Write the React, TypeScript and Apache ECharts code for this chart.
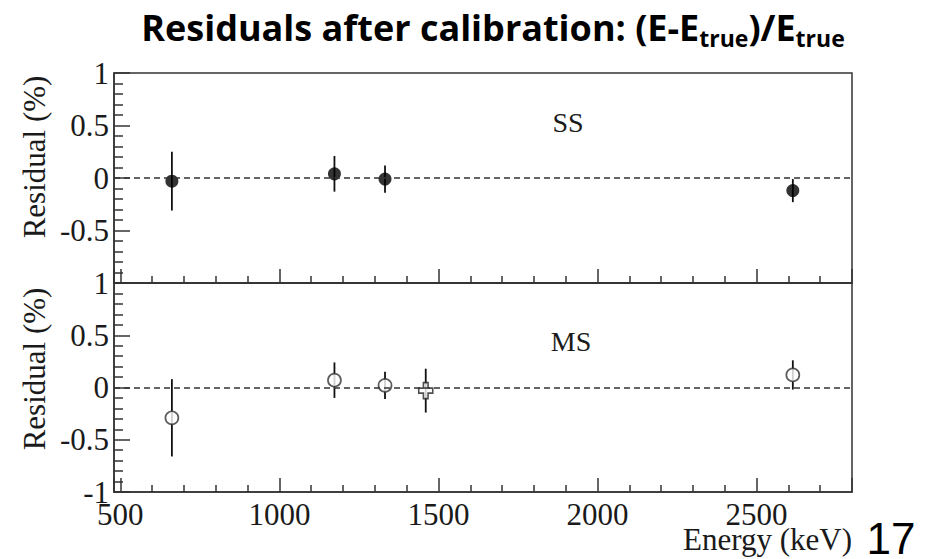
import React, { useEffect, useRef } from "react";
import * as echarts from "echarts";

// ---- data ----
const ssEnergy = [662, 1173, 1332, 2614];
const ssResidual = [-0.03, 0.04, -0.01, -0.12];
const ssError = [0.28, 0.17, 0.13, 0.11];

const msEnergy = [662, 1173, 1332, 2614];
const msResidual = [-0.29, 0.07, 0.02, 0.12];
const msError = [0.37, 0.17, 0.13, 0.14];

const msCrossEnergy = [1460];
const msCrossResidual = [-0.03];
const msCrossError = [0.21];

const xMin = 480;
const xMax = 2800;
const yMin = -1;
const yMax = 1;

const SERIF = "'Liberation Serif', 'DejaVu Serif', serif";
const TITLE_FONT = "'Open Sans', 'Noto Sans', sans-serif";
const FRAME = "#333";
const INK = "#111";

const crossPath =
  "path://M4,0 L8,0 L8,4.5 L12,4.5 L12,8.5 L8,8.5 L8,13 L4,13 L4,8.5 L0,8.5 L0,4.5 L4,4.5 Z";

function zip3(a: number[], b: number[], c: number[]) {
  return a.map((v, i) => [v, b[i], c[i]]);
}

const errorRender = (params: any, api: any) => {
  const x = api.value(0);
  const y = api.value(1);
  const e = api.value(2);
  const p1 = api.coord([x, y + e]);
  const p2 = api.coord([x, y - e]);
  return {
    type: "line",
    shape: { x1: p1[0], y1: p1[1], x2: p2[0], y2: p2[1] },
    style: { stroke: INK, lineWidth: 1.8 },
  };
};

export default function App() {
  const ref = useRef<HTMLDivElement>(null);

  useEffect(() => {
    document.body.style.margin = "0";
    if (!ref.current) return;
    const chart = echarts.init(ref.current, undefined, { renderer: "svg" });

    const gridLeft = 114;
    const gridWidth = 738;

    const xAxisBase = (idx: number, showLabel: boolean) => ({
      type: "value",
      gridIndex: idx,
      min: xMin,
      max: xMax,
      splitNumber: 5,
      axisLine: { show: true, onZero: false, lineStyle: { color: FRAME, width: 1.5 } },
      axisTick: { show: true, inside: true, length: 14, lineStyle: { color: FRAME, width: 1.5 } },
      minorTick: { show: true, splitNumber: 5, length: 7, lineStyle: { color: FRAME, width: 1.5 } },
      splitLine: { show: false },
      axisLabel: {
        show: showLabel,
        fontFamily: SERIF,
        fontSize: 31,
        color: "#1a1a1a",
        margin: 7,
        formatter: (v: number) => (Math.abs(v % 500) < 1e-6 ? String(v) : ""),
      },
    });

    const yAxisBase = (idx: number, showMin: boolean) => ({
      type: "value",
      gridIndex: idx,
      min: yMin,
      max: yMax,
      interval: 0.5,
      axisLine: { show: true, onZero: false, lineStyle: { color: FRAME, width: 1.5 } },
      axisTick: { show: true, inside: true, length: 16, lineStyle: { color: FRAME, width: 1.5 } },
      minorTick: { show: true, splitNumber: 5, length: 9, lineStyle: { color: FRAME, width: 1.5 } },
      splitLine: { show: false },
      axisLabel: {
        show: true,
        showMinLabel: showMin,
        fontFamily: SERIF,
        fontSize: 31,
        color: "#1a1a1a",
        margin: 5,
        formatter: (v: number) => String(v),
      },
    });

    const zeroLine = {
      silent: true,
      symbol: "none",
      label: { show: false },
      lineStyle: { color: FRAME, width: 1.5, type: [6, 4] },
      data: [{ yAxis: 0 }],
    };

    chart.setOption({
      animation: false,
      backgroundColor: "#ffffff",
      grid: [
        { left: gridLeft, top: 73, width: gridWidth, height: 210, show: true, borderColor: FRAME, borderWidth: 1.5, backgroundColor: "transparent" },
        { left: gridLeft, top: 283, width: gridWidth, height: 209, show: true, borderColor: FRAME, borderWidth: 1.5, backgroundColor: "transparent" },
      ],
      xAxis: [xAxisBase(0, false), xAxisBase(1, true)],
      yAxis: [yAxisBase(0, false), yAxisBase(1, true)],
      series: [
        {
          type: "custom",
          xAxisIndex: 0,
          yAxisIndex: 0,
          renderItem: errorRender,
          encode: { x: 0, y: 1 },
          data: zip3(ssEnergy, ssResidual, ssError),
          markLine: zeroLine,
          z: 2,
        },
        {
          type: "scatter",
          xAxisIndex: 0,
          yAxisIndex: 0,
          symbol: "circle",
          symbolSize: 13,
          itemStyle: { color: "#000" },
          data: ssEnergy.map((e, i) => [e, ssResidual[i]]),
          z: 3,
        },
        {
          type: "custom",
          xAxisIndex: 1,
          yAxisIndex: 1,
          renderItem: errorRender,
          encode: { x: 0, y: 1 },
          data: zip3(msEnergy, msResidual, msError).concat(zip3(msCrossEnergy, msCrossResidual, msCrossError)),
          markLine: zeroLine,
          z: 2,
        },
        {
          type: "scatter",
          xAxisIndex: 1,
          yAxisIndex: 1,
          symbol: "circle",
          symbolSize: 13,
          itemStyle: { color: "#fff", borderColor: "#333", borderWidth: 1.7 },
          data: msEnergy.map((e, i) => [e, msResidual[i]]),
          z: 3,
        },
        {
          type: "scatter",
          xAxisIndex: 1,
          yAxisIndex: 1,
          symbol: crossPath,
          symbolSize: [14, 16],
          itemStyle: { color: "#fff", borderColor: "#222", borderWidth: 1.7 },
          data: msCrossEnergy.map((e, i) => [e, msCrossResidual[i]]),
          z: 3,
        },
      ],
      graphic: [
        {
          type: "text",
          x: 493,
          y: 27,
          style: {
            text: "Residuals after calibration: (E-E{s|true})/E{s|true}",
            align: "center",
            verticalAlign: "middle",
            fontFamily: TITLE_FONT,
            fontWeight: "bold",
            fontSize: 36,
            lineHeight: 44,
            fill: "#000",
            rich: {
              s: {
                fontFamily: TITLE_FONT,
                fontWeight: "bold",
                fontSize: 23,
                lineHeight: 20,
                verticalAlign: "bottom",
                fill: "#000",
              },
            },
          },
        },
        {
          type: "text",
          x: 34,
          y: 157,
          rotation: Math.PI / 2,
          style: { text: "Residual (%)", align: "center", verticalAlign: "middle", fontFamily: SERIF, fontSize: 31, fill: "#1a1a1a" },
        },
        {
          type: "text",
          x: 34,
          y: 369,
          rotation: Math.PI / 2,
          style: { text: "Residual (%)", align: "center", verticalAlign: "middle", fontFamily: SERIF, fontSize: 31, fill: "#1a1a1a" },
        },
        {
          type: "text",
          x: 568,
          y: 122,
          style: { text: "SS", align: "center", verticalAlign: "middle", fontFamily: SERIF, fontSize: 28, fill: "#1a1a1a" },
        },
        {
          type: "text",
          x: 571,
          y: 341,
          style: { text: "MS", align: "center", verticalAlign: "middle", fontFamily: SERIF, fontSize: 28, fill: "#1a1a1a" },
        },
        {
          type: "text",
          x: 852,
          y: 539,
          style: { text: "Energy (keV)", align: "right", verticalAlign: "middle", fontFamily: SERIF, fontSize: 31, fill: "#1a1a1a" },
        },
        {
          type: "text",
          x: 891,
          y: 538,
          style: { text: "17", align: "center", verticalAlign: "middle", fontFamily: "'Liberation Sans', Arial, sans-serif", fontSize: 44, fill: "#000" },
        },
      ],
    });

    return () => chart.dispose();
  }, []);

  return <div ref={ref} style={{ width: 925, height: 559 }} />;
}
